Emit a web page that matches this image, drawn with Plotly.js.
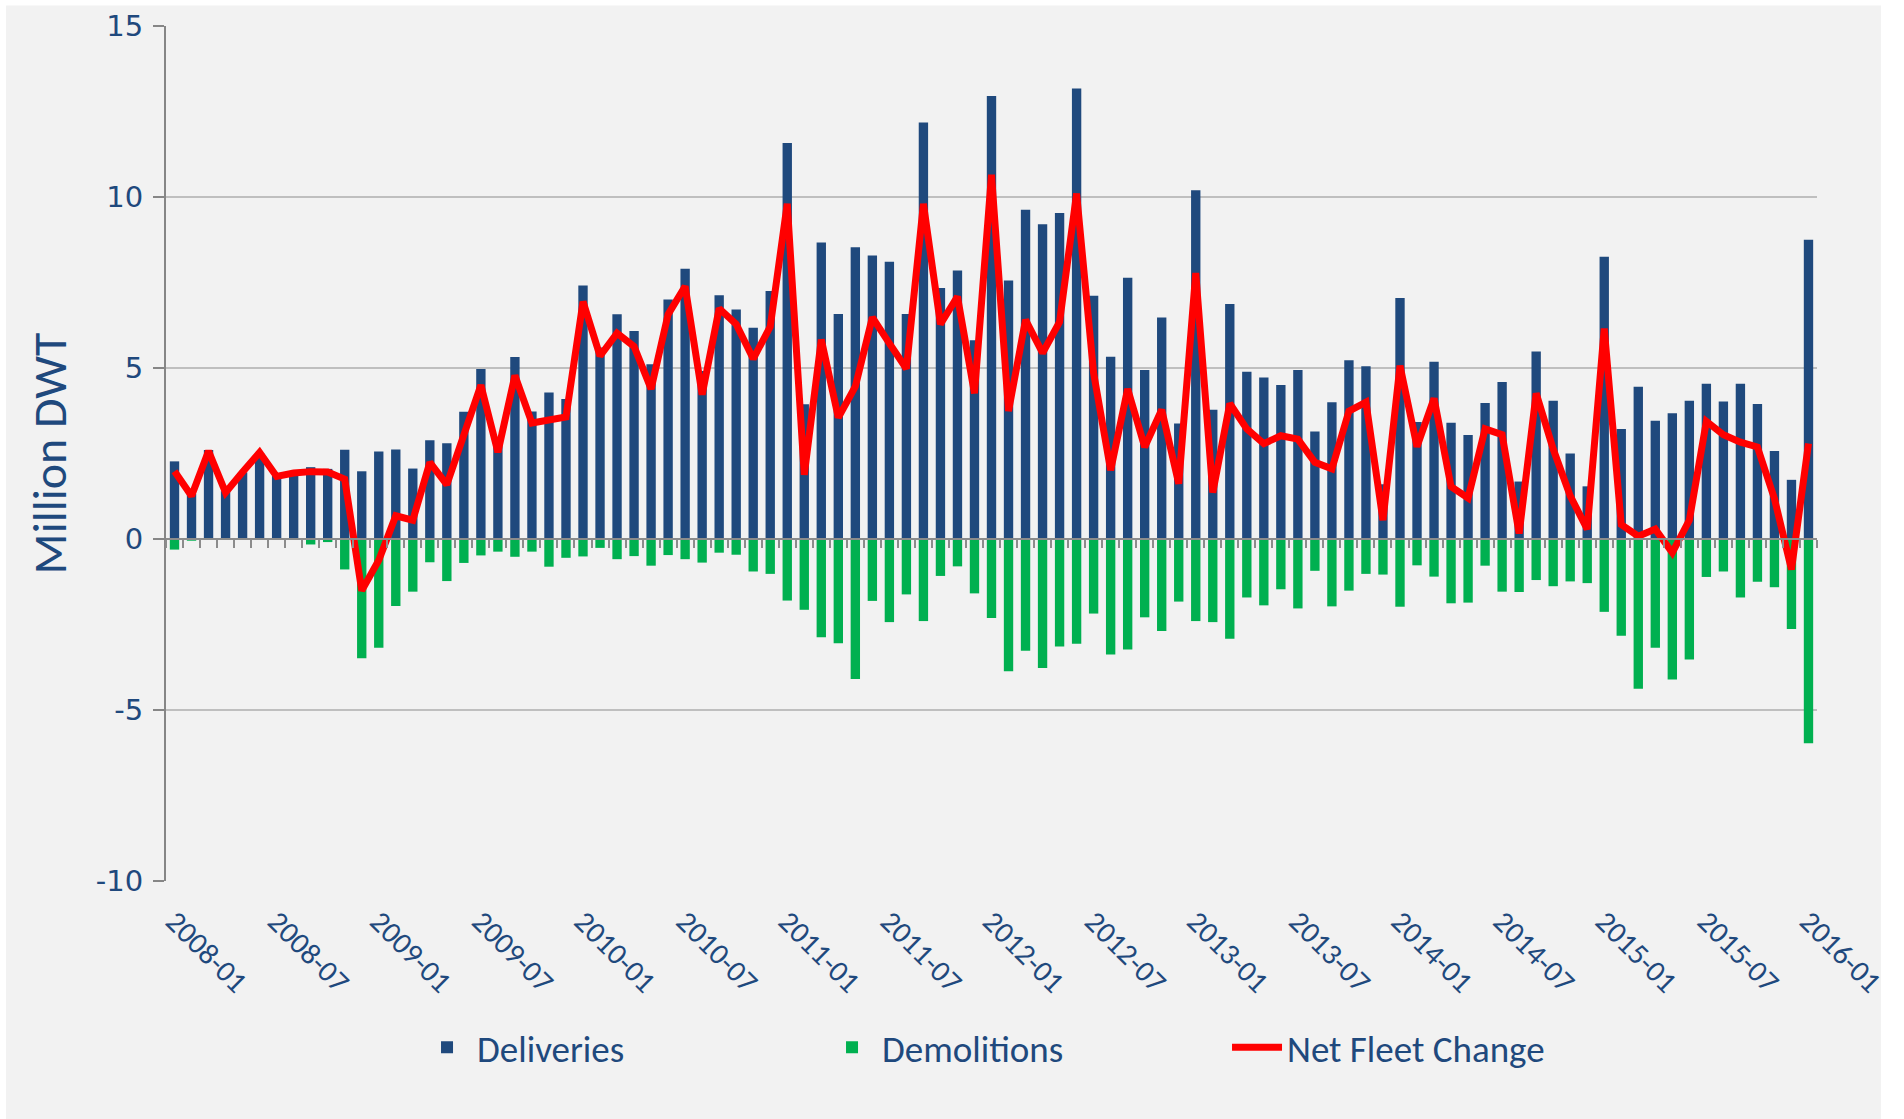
<!DOCTYPE html>
<html>
<head>
<meta charset="utf-8">
<script src="https://cdn.plot.ly/plotly-3.0.1.min.js"></script>
<style>
  html, body { margin: 0; padding: 0; background: #ffffff; }
  #chart { width: 1904px; height: 1119px; }
</style>
</head>
<body>
<div id="chart"></div>
<script>
// monthly categories, 2008-01 .. 2016-01
var months = [
  '2008-01','2008-02','2008-03','2008-04','2008-05','2008-06','2008-07','2008-08','2008-09','2008-10','2008-11','2008-12',
  '2009-01','2009-02','2009-03','2009-04','2009-05','2009-06','2009-07','2009-08','2009-09','2009-10','2009-11','2009-12',
  '2010-01','2010-02','2010-03','2010-04','2010-05','2010-06','2010-07','2010-08','2010-09','2010-10','2010-11','2010-12',
  '2011-01','2011-02','2011-03','2011-04','2011-05','2011-06','2011-07','2011-08','2011-09','2011-10','2011-11','2011-12',
  '2012-01','2012-02','2012-03','2012-04','2012-05','2012-06','2012-07','2012-08','2012-09','2012-10','2012-11','2012-12',
  '2013-01','2013-02','2013-03','2013-04','2013-05','2013-06','2013-07','2013-08','2013-09','2013-10','2013-11','2013-12',
  '2014-01','2014-02','2014-03','2014-04','2014-05','2014-06','2014-07','2014-08','2014-09','2014-10','2014-11','2014-12',
  '2015-01','2015-02','2015-03','2015-04','2015-05','2015-06','2015-07','2015-08','2015-09','2015-10','2015-11','2015-12',
  '2016-01'
];

// Million DWT
var deliveries = [
  2.27, 1.32, 2.60, 1.40, 1.95, 2.50, 1.85, 1.95, 2.10, 2.05, 2.61, 1.98,
  2.56, 2.62, 2.06, 2.89, 2.80, 3.72, 4.97, 2.90, 5.32, 3.73, 4.28, 4.09,
  7.41, 5.60, 6.57, 6.08, 5.11, 7.00, 7.90, 4.91, 7.13, 6.71, 6.18, 7.25,
  11.58, 3.94, 8.67, 6.58, 8.53, 8.29, 8.11, 6.58, 12.18, 7.34, 7.85, 5.81,
  12.95, 7.56, 9.63, 9.20, 9.53, 13.17, 7.11, 5.33, 7.64, 4.94, 6.48, 3.38,
  10.20, 3.78, 6.87, 4.89, 4.72, 4.50, 4.94, 3.14, 4.00, 5.23, 5.05, 1.60,
  7.05, 3.42, 5.18, 3.40, 3.04, 3.98, 4.59, 1.68, 5.48, 4.04, 2.50, 1.54,
  8.25, 3.22, 4.45, 3.46, 3.68, 4.04, 4.54, 4.02, 4.54, 3.95, 2.57, 1.73,
  8.75
];

var demolitions = [
  -0.31, -0.05, 0, 0, 0, 0, 0, 0, -0.16, -0.09, -0.89, -3.49,
  -3.18, -1.96, -1.54, -0.68, -1.23, -0.70, -0.48, -0.37, -0.52, -0.37, -0.81, -0.55,
  -0.51, -0.26, -0.59, -0.50, -0.78, -0.47, -0.59, -0.69, -0.40, -0.46, -0.95, -1.02,
  -1.80, -2.07, -2.87, -3.05, -4.09, -1.81, -2.43, -1.62, -2.40, -1.08, -0.80, -1.59,
  -2.31, -3.87, -3.27, -3.77, -3.14, -3.06, -2.18, -3.38, -3.23, -2.29, -2.69, -1.83,
  -2.40, -2.43, -2.92, -1.71, -1.94, -1.47, -2.03, -0.93, -1.97, -1.51, -1.02, -1.04,
  -1.98, -0.77, -1.10, -1.88, -1.86, -0.78, -1.54, -1.55, -1.20, -1.38, -1.24, -1.29,
  -2.13, -2.83, -4.38, -3.18, -4.11, -3.52, -1.11, -0.95, -1.71, -1.25, -1.41, -2.63,
  -5.97
];

var netFleetChange = [
  1.98, 1.26, 2.57, 1.36, 1.96, 2.53, 1.83, 1.93, 1.97, 1.96, 1.75, -1.51,
  -0.62, 0.68, 0.55, 2.24, 1.59, 3.02, 4.50, 2.54, 4.78, 3.39, 3.48, 3.57,
  6.94, 5.35, 6.02, 5.63, 4.39, 6.57, 7.39, 4.22, 6.74, 6.28, 5.27, 6.21,
  9.80, 1.88, 5.83, 3.55, 4.46, 6.48, 5.72, 4.98, 9.80, 6.28, 7.09, 4.26,
  10.65, 3.74, 6.41, 5.44, 6.35, 10.10, 4.85, 2.01, 4.39, 2.69, 3.78, 1.62,
  7.78, 1.36, 3.96, 3.22, 2.79, 3.02, 2.92, 2.24, 2.05, 3.74, 4.00, 0.55,
  5.07, 2.70, 4.11, 1.53, 1.20, 3.22, 3.05, 0.16, 4.26, 2.63, 1.26, 0.29,
  6.15, 0.42, 0.08, 0.29, -0.40, 0.55, 3.44, 3.05, 2.83, 2.69, 1.18, -0.89,
  2.79
];

// labelled every six months
var tickLabels = [
  '2008-01','2008-07','2009-01','2009-07','2010-01','2010-07','2011-01','2011-07',
  '2012-01','2012-07','2013-01','2013-07','2014-01','2014-07','2015-01','2015-07','2016-01'
];

// y ticks, written with a plain hyphen like the original
var yTickVals = [-10, -5, 0, 5, 10, 15];
var yTickText = ['-10', '-5', '0', '5', '10', '15'];

var FONT = 'Carlito, Calibri, Lato, "Open Sans", sans-serif';
var TEXT = '#1F497D';

var traces = [
  {
    type: 'bar', name: 'Deliveries', x: months, y: deliveries,
    width: 0.55, marker: {color: '#1F497D'}
  },
  {
    type: 'bar', name: 'Demolitions', x: months, y: demolitions,
    width: 0.55, marker: {color: '#00B050'}
  },
  {
    type: 'scatter', mode: 'lines', name: 'Net Fleet Change', x: months, y: netFleetChange,
    line: {color: '#FF0000', width: 7}
  },
  // invisible copy so the zero axis (x2) gets its categories
  {
    type: 'scatter', mode: 'lines', x: months, y: netFleetChange, xaxis: 'x2',
    line: {width: 0}, opacity: 0, showlegend: false, hoverinfo: 'skip'
  }
];

var layout = {
  width: 1904, height: 1119,
  margin: {l: 166, r: 87, t: 26, b: 238},
  paper_bgcolor: '#ffffff',
  plot_bgcolor: 'rgba(0,0,0,0)',
  barmode: 'relative',
  font: {family: FONT, color: TEXT},
  showlegend: true,
  legend: {
    orientation: 'h', x: 0.52, xanchor: 'center', y: -0.195, yanchor: 'middle',
    font: {size: 37, color: TEXT}, itemwidth: 50,
    entrywidth: 340, entrywidthmode: 'pixels',
    bgcolor: 'rgba(0,0,0,0)'
  },
  xaxis: {
    type: 'category', range: [-0.5, 96.5],
    tickmode: 'array', tickvals: tickLabels, ticktext: tickLabels,
    tickangle: 45, tickfont: {size: 30, color: TEXT},
    ticks: '', showgrid: false, showline: false, zeroline: false,
    ticklabelstandoff: 16
  },
  xaxis2: {
    type: 'category', overlaying: 'x', anchor: 'free', position: 0.4,
    range: [-0.5, 96.5], tickmode: 'linear', dtick: 1,
    tickson: 'boundaries', ticks: 'outside', ticklen: 8, tickwidth: 2, tickcolor: '#8C8C8C',
    showticklabels: false, showgrid: false, zeroline: false,
    showline: true, linecolor: '#8C8C8C', linewidth: 2
  },
  yaxis: {
    range: [-10, 15], tickmode: 'array', tickvals: yTickVals, ticktext: yTickText,
    gridcolor: '#BFBFBF', gridwidth: 2,
    showline: true, linecolor: '#868686', linewidth: 2,
    ticks: 'outside', ticklen: 11, tickwidth: 2, tickcolor: '#868686',
    zeroline: false,
    tickfont: {family: '"DejaVu Sans", Verdana, sans-serif', size: 29, color: TEXT},
    ticklabelstandoff: 4,
    title: {text: 'Million DWT', font: {size: 48, color: TEXT}, standoff: 14}
  },
  shapes: [
    {
      type: 'rect', xref: 'paper', yref: 'paper', layer: 'below',
      x0: -0.0969, x1: 1.0388, y0: -0.2788, y1: 1.0241,
      fillcolor: '#F2F2F2', line: {width: 0}
    }
  ]
};

Plotly.newPlot('chart', traces, layout, {displayModeBar: false, staticPlot: true});
</script>
</body>
</html>
